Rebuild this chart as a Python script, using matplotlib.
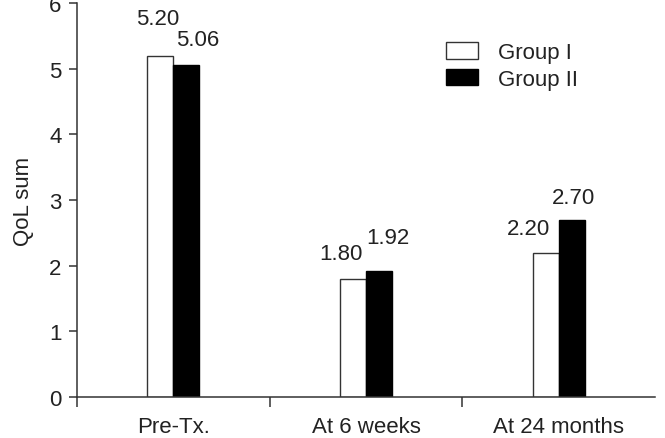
import matplotlib.pyplot as plt
import numpy as np

# === dane ===
categories = ["Pre-Tx.", "At 6 weeks", "At 24 months"]
group1 = [5.20, 1.80, 2.20]
group2 = [5.06, 1.92, 2.70]
labels1 = ["5.20", "1.80", "2.20"]
labels2 = ["5.06", "1.92", "2.70"]

# przesunięcia etykiet (ręcznie, jak w oryginale)
dx1 = [-0.08, -0.13, -0.157]
dx2 = [0.128, 0.114, 0.079]
dy1 = [0.57, 0.38, 0.36]
dy2 = [0.38, 0.51, 0.34]

plt.rcParams['font.family'] = ['Liberation Sans', 'DejaVu Sans']
fs = 16
ink = '#222222'
edge = '#333333'

fig = plt.figure(figsize=(6.65, 4.39), dpi=100)
ax = fig.add_axes([77 / 665, 1 - 398 / 439, 578 / 665, 394 / 439])

x = np.arange(len(categories)) + 0.5
w = 0.135
ax.bar(x - w / 2, group1, w, color='white', edgecolor=edge, linewidth=1.0, label='Group I')
ax.bar(x + w / 2, group2, w, color='black', edgecolor='black', linewidth=1.0, label='Group II')

for i in range(len(categories)):
    ax.text(x[i] + dx1[i], group1[i] + dy1[i], labels1[i], ha='center', va='center', fontsize=fs, color=ink)
    ax.text(x[i] + dx2[i], group2[i] + dy2[i], labels2[i], ha='center', va='center', fontsize=fs, color=ink)

ax.set_xlim(0, 3)
ax.set_ylim(0, 6)
ax.set_yticks(range(7))
ax.set_xticks(x)
ax.set_xticklabels(categories)
ax.set_xticks([0, 1, 2], minor=True)
ax.tick_params(axis='x', which='major', length=0, pad=14, labelsize=fs, labelcolor=ink)
ax.tick_params(axis='x', which='minor', length=7, width=1.1, color=edge, direction='out')
ax.tick_params(axis='y', length=6, width=1.1, color=edge, direction='out', pad=5, labelsize=fs, labelcolor=ink)
ax.set_ylabel('QoL sum', fontsize=fs, color=ink, labelpad=11)

for s in ['top', 'right']:
    ax.spines[s].set_visible(False)
for s in ['left', 'bottom']:
    ax.spines[s].set_color(edge)
    ax.spines[s].set_linewidth(1.1)

leg = ax.legend(loc='upper left', bbox_to_anchor=(446 / 665, 1 - 43 / 439), bbox_transform=fig.transFigure,
                frameon=False, fontsize=fs, handlelength=1.45, handleheight=0.78,
                handletextpad=0.9, labelspacing=0.25, borderpad=0, borderaxespad=0)
for t in leg.get_texts():
    t.set_color(ink)

plt.savefig('out.png', dpi=100)
